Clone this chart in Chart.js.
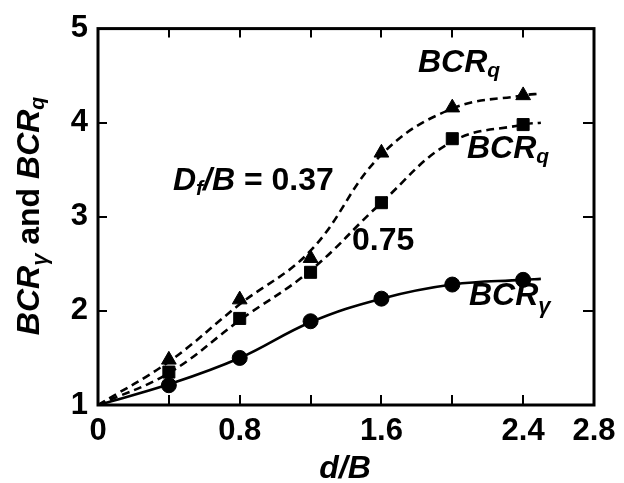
<!DOCTYPE html>
<html><head><meta charset="utf-8">
<script src="https://cdn.jsdelivr.net/npm/chart.js@4.4.1/dist/chart.umd.min.js"></script>
<style>html,body{margin:0;padding:0;background:#fff;}canvas{display:block;}</style>
</head><body>
<canvas id="c" width="624" height="483"></canvas>
<script>
// ---- data ----
// test points (markers)
const dB = [0.4, 0.8, 1.2, 1.6, 2.0, 2.4];
const bcrqDf037 = [1.48, 2.12, 2.56, 3.68, 4.16, 4.29];
const bcrqDf075 = [1.35, 1.92, 2.41, 3.15, 3.83, 3.98];
const bcrGamma  = [1.21, 1.50, 1.89, 2.13, 2.28, 2.33];
// fitted curves
const curveX        = [0, 0.4, 0.8, 1.2, 1.6, 2.0, 2.4, 2.5];
const curveDf037    = [1, 1.46, 2.07, 2.64, 3.66, 4.15, 4.29, 4.31];
const curveDf075    = [1, 1.34, 1.90, 2.43, 3.15, 3.80, 3.98, 4.00];
const curveGamma    = [1, 1.22, 1.50, 1.88, 2.13, 2.28, 2.33, 2.34];
const xTickLabels = ['0', '0.8', '1.6', '2.4', '2.8'];
const yTickLabels = ['1', '2', '3', '4', '5'];

const FAMILY = '"Liberation Sans", Arial, Helvetica, sans-serif';
const WEIGHT = 'bold';

function pts(xs, ys) { return xs.map((x, i) => ({x: x, y: ys[i]})); }

function richWidth(ctx, parts, size) {
  let w = 0;
  for (const p of parts) {
    ctx.font = (p.italic ? 'italic ' : '') + WEIGHT + ' ' + (p.sub ? p.subSize : size) + 'px ' + FAMILY;
    w += ctx.measureText(p.t).width;
  }
  return w;
}
function drawRich(ctx, x, y, parts, size) {
  let cx = x;
  for (const p of parts) {
    ctx.font = (p.italic ? 'italic ' : '') + WEIGHT + ' ' + (p.sub ? p.subSize : size) + 'px ' + FAMILY;
    ctx.fillText(p.t, cx, y + (p.sub ? p.dy : 0));
    cx += ctx.measureText(p.t).width;
  }
}

const framePlugin = {
  id: 'frame',
  afterDatasetsDraw(chart) {
    const ctx = chart.ctx, a = chart.chartArea;
    const xs = chart.scales.x, ys = chart.scales.y;
    ctx.save();
    ctx.strokeStyle = '#000';
    ctx.lineWidth = 2;
    ctx.beginPath();
    xs.ticks.forEach(t => {
      const px = Math.round(xs.getPixelForValue(t.value));
      if (px <= a.left + 1 || px >= a.right - 1) return;
      ctx.moveTo(px, a.bottom); ctx.lineTo(px, a.bottom - 10);
      ctx.moveTo(px, a.top); ctx.lineTo(px, a.top + 9);
    });
    ys.ticks.forEach(t => {
      const py = Math.round(ys.getPixelForValue(t.value));
      if (py <= a.top + 1 || py >= a.bottom - 1) return;
      ctx.moveTo(a.left, py); ctx.lineTo(a.left + 9, py);
      ctx.moveTo(a.right, py); ctx.lineTo(a.right - 11, py);
    });
    ctx.stroke();
    ctx.lineWidth = 3;
    ctx.strokeRect(a.left, a.top, a.right - a.left, a.bottom - a.top);
    ctx.restore();
  },
  afterDraw(chart) {
    const ctx = chart.ctx;
    ctx.save();
    ctx.fillStyle = '#000';
    ctx.textBaseline = 'alphabetic';
    ctx.textAlign = 'left';
    const S = 32;
    const bcrq = [{t: 'BCR', italic: true}, {t: 'q', italic: true, sub: true, subSize: 21, dy: 5}];
    const bcrg = [{t: 'BCR', italic: true}, {t: 'γ', italic: true, sub: true, subSize: 22, dy: 8}];
    drawRich(ctx, 418, 72, bcrq, S);
    drawRich(ctx, 467, 158, bcrq, S);
    drawRich(ctx, 469, 305, bcrg, S);
    drawRich(ctx, 173, 190, [
      {t: 'D', italic: true}, {t: 'f', italic: true, sub: true, subSize: 21, dy: 5},
      {t: '/B', italic: true}, {t: ' = 0.37'}], S);
    drawRich(ctx, 352, 250, [{t: '0.75'}], S);
    // x title
    const xt = [{t: 'd/B', italic: true}];
    drawRich(ctx, 345 - richWidth(ctx, xt, S) / 2, 478, xt, S);
    // y title (rotated)
    const yt = [{t: 'BCR', italic: true}, {t: 'γ', italic: true, sub: true, subSize: 22, dy: 8},
                {t: ' and '}, {t: 'BCR', italic: true}, {t: 'q', italic: true, sub: true, subSize: 21, dy: 5}];
    const ySize = 32;
    const w = richWidth(ctx, yt, ySize);
    ctx.translate(39, 216);
    ctx.rotate(-Math.PI / 2);
    drawRich(ctx, -w / 2, 0, yt, ySize);
    ctx.restore();
  }
};

const tickFont = {family: FAMILY, size: 31, weight: WEIGHT};

new Chart(document.getElementById('c'), {
  type: 'scatter',
  data: {
    datasets: [
      {type: 'line', data: pts(curveX, curveDf037), borderColor: '#000', borderWidth: 2.6,
       borderDash: [8, 5], tension: 0.4, pointRadius: 0, fill: false, order: 2},
      {type: 'line', data: pts(curveX, curveDf075), borderColor: '#000', borderWidth: 2.6,
       borderDash: [8, 5], tension: 0.4, pointRadius: 0, fill: false, order: 2},
      {type: 'line', data: pts(curveX, curveGamma), borderColor: '#000', borderWidth: 2.6,
       tension: 0.4, pointRadius: 0, fill: false, order: 2},
      {data: pts(dB, bcrqDf037), pointStyle: 'triangle', pointRadius: 8.5, backgroundColor: '#000', borderColor: '#000', borderWidth: 1, order: 1},
      {data: pts(dB, bcrqDf075), pointStyle: 'rect', pointRadius: 8.5, backgroundColor: '#000', borderColor: '#000', borderWidth: 1, order: 1},
      {data: pts(dB, bcrGamma), pointStyle: 'circle', pointRadius: 7.5, backgroundColor: '#000', borderColor: '#000', borderWidth: 1, order: 1}
    ]
  },
  options: {
    responsive: false,
    devicePixelRatio: 1,
    animation: false,
    layout: {padding: {top: 19, right: 30, left: 0, bottom: 0}},
    plugins: {legend: {display: false}, tooltip: {enabled: false}},
    scales: {
      x: {
        type: 'linear', min: 0, max: 2.8, position: 'bottom',
        grid: {display: false, drawTicks: false},
        border: {display: false},
        ticks: {
          stepSize: 0.4, color: '#000', font: tickFont, padding: 8, maxRotation: 0, autoSkip: false,
          callback: v => { const s = String(Number(v.toFixed(1))); return xTickLabels.includes(s) ? s : ''; }
        },
        afterFit: s => { s.height = 78; }
      },
      y: {
        type: 'linear', min: 1, max: 5, position: 'left',
        grid: {display: false, drawTicks: false},
        border: {display: false},
        ticks: {
          stepSize: 1, color: '#000', font: tickFont, padding: 10,
          callback: v => { const s = String(v); return yTickLabels.includes(s) ? s : ''; }
        },
        afterFit: s => { s.width = 98; }
      }
    }
  },
  plugins: [framePlugin]
});
</script>
</body></html>
